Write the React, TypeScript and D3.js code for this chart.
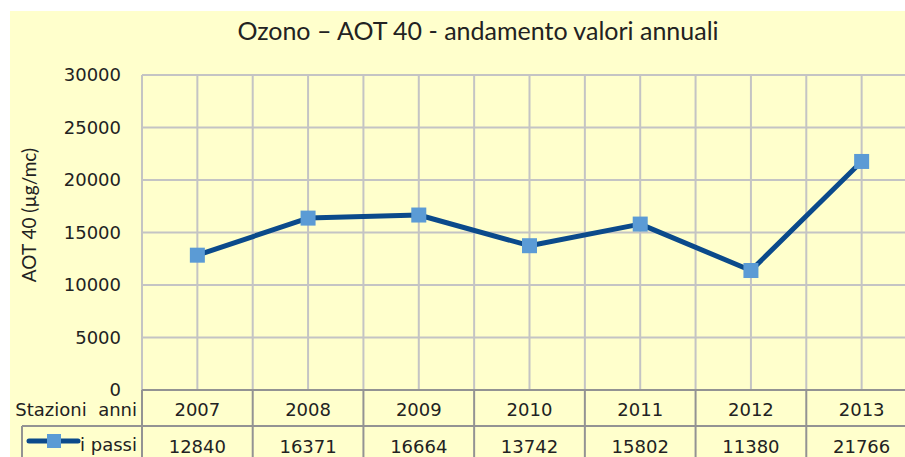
import React from "react";
import * as d3 from "d3";

const years = ["2007", "2008", "2009", "2010", "2011", "2012", "2013"];
const values = [12840, 16371, 16664, 13742, 15802, 11380, 21766];
const yTicks = [0, 5000, 10000, 15000, 20000, 25000, 30000];
const title = "Ozono – AOT 40 - andamento valori annuali";
const yLabel = "AOT 40 (µg/mc)";
const seriesName = "i passi";
const tableHeader = "Stazioni  anni";

const W = 905;
const H = 457;
const left = 142;
const right = 917;
const top = 75;
const bottom = 390;
const rowDiv = 426;

const lineColor = "#0b4a8b";
const markerColor = "#5b9bd5";
const gridColor = "#c4c4c4";
const tableColor = "#939393";
const textColor = "#222";
const axisFont = "'DejaVu Sans', Verdana, sans-serif";
const titleFont = "Lato, 'Open Sans', sans-serif";

export default function App() {
  const x = d3.scaleBand<string>().domain(years).range([left, right]).padding(0);
  const y = d3.scaleLinear().domain([0, 30000]).range([bottom, top]);
  const bw = x.bandwidth();
  const cx = (d: string) => (x(d) as number) + bw / 2;

  const line = d3
    .line<number>()
    .x((_, i) => cx(years[i]))
    .y((v) => y(v));

  const vLines: number[] = [];
  years.forEach((yr) => {
    vLines.push(x(yr) as number);
    vLines.push(cx(yr));
  });
  vLines.push(right);

  return (
    <svg
      width={W}
      height={H}
      style={{ position: "absolute", left: 0, top: 0, display: "block" }}
    >
      <rect x={0} y={0} width={W} height={H} fill="#ffffff" />
      <rect x={10} y={11} width={W - 10} height={H - 11} fill="#ffffcc" />
      <text
        x={478}
        y={40}
        textAnchor="middle"
        fontFamily={titleFont}
        fontSize={25}
        fill={textColor}
      >
        {title}
      </text>

      {/* horizontal gridlines */}
      {yTicks.slice(1).map((t) => (
        <line
          key={"h" + t}
          x1={left}
          x2={right}
          y1={y(t)}
          y2={y(t)}
          stroke={gridColor}
          strokeWidth={2}
        />
      ))}
      {/* vertical gridlines */}
      {vLines.map((vx, i) => (
        <line
          key={"v" + i}
          x1={vx}
          x2={vx}
          y1={top}
          y2={bottom}
          stroke={gridColor}
          strokeWidth={2}
        />
      ))}

      {/* y tick labels */}
      {yTicks.map((t) => (
        <text
          key={"yt" + t}
          x={121}
          y={y(t) + 6}
          textAnchor="end"
          fontFamily={axisFont}
          fontSize={18}
          fill={textColor}
        >
          {t}
        </text>
      ))}

      <text
        transform={`translate(36,215) rotate(-90)`}
        textAnchor="middle"
        fontFamily={titleFont}
        fontSize={19}
        fill={textColor}
      >
        {yLabel}
      </text>

      {/* data table */}
      <line x1={left} x2={right} y1={bottom} y2={bottom} stroke={tableColor} strokeWidth={2} />
      <line x1={22} x2={right} y1={rowDiv} y2={rowDiv} stroke={tableColor} strokeWidth={2} />
      <line x1={22} x2={22} y1={rowDiv} y2={H} stroke={tableColor} strokeWidth={2} />
      {years.map((yr) => (
        <line
          key={"tv" + yr}
          x1={x(yr) as number}
          x2={x(yr) as number}
          y1={bottom}
          y2={H}
          stroke={tableColor}
          strokeWidth={2}
        />
      ))}
      <text
        x={137}
        y={416}
        textAnchor="end"
        fontFamily={axisFont}
        fontSize={18}
        fill={textColor}
        style={{ whiteSpace: "pre" }}
        xmlSpace="preserve"
      >
        {tableHeader}
      </text>
      {years.map((yr) => (
        <text
          key={"yr" + yr}
          x={cx(yr)}
          y={416}
          textAnchor="middle"
          fontFamily={axisFont}
          fontSize={18}
          fill={textColor}
        >
          {yr}
        </text>
      ))}
      {values.map((v, i) => (
        <text
          key={"val" + i}
          x={cx(years[i])}
          y={453}
          textAnchor="middle"
          fontFamily={axisFont}
          fontSize={18}
          fill={textColor}
        >
          {v}
        </text>
      ))}
      {/* legend key */}
      <line x1={29} x2={78} y1={441} y2={441} stroke={lineColor} strokeWidth={5} strokeLinecap="round" />
      <rect x={47} y={434} width={14} height={14} fill={markerColor} />
      <text
        x={137}
        y={451}
        textAnchor="end"
        fontFamily={axisFont}
        fontSize={18}
        fill={textColor}
      >
        {seriesName}
      </text>

      {/* series */}
      <path
        d={line(values) || ""}
        fill="none"
        stroke={lineColor}
        strokeWidth={5}
        strokeLinejoin="round"
      />
      {values.map((v, i) => (
        <rect
          key={"m" + i}
          x={cx(years[i]) - 7.5}
          y={y(v) - 7.5}
          width={15}
          height={15}
          fill={markerColor}
        />
      ))}
    </svg>
  );
}
